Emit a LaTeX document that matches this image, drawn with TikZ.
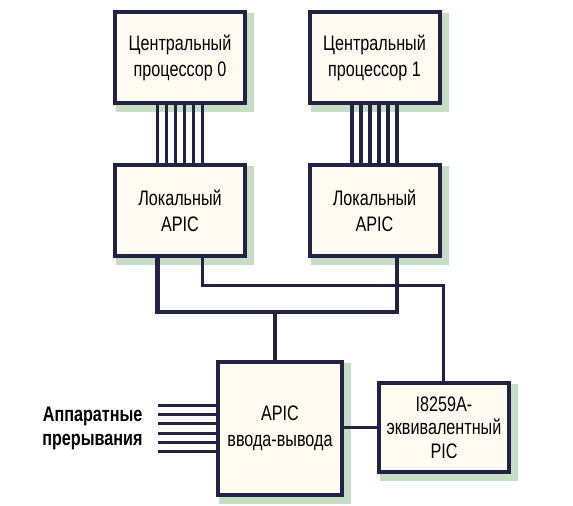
\documentclass[tikz,border=0pt]{standalone}
\usepackage{fontspec}
\setmainfont{Liberation Sans}[FakeStretch=0.77]
\definecolor{edgecol}{HTML}{222244}
\definecolor{boxfill}{HTML}{FFFBF0}
\definecolor{shadowcol}{HTML}{C5DEC5}
\pgfdeclarelayer{shadowlayer}
\pgfdeclarelayer{linelayer}
\pgfsetlayers{shadowlayer,linelayer,main}
\begin{document}
\begin{tikzpicture}[x=1pt,y=-1pt,
  box/.style={draw=edgecol, line width=4pt, fill=boxfill, minimum width=130pt,
    minimum height=91pt, inner sep=0pt, align=center,
    font=\fontsize{21}{26}\selectfont},
  busline/.style={draw=edgecol, line width=3.2pt},
  thickbus/.style={draw=edgecol, line width=4.5pt, line join=miter},
  thinwire/.style={draw=edgecol, line width=3pt, line join=miter},
  lbl/.style={font=\fontsize{21}{23.5}\selectfont\bfseries, align=right, text=black}]
\useasboundingbox (0,0) rectangle (573,506);
\node[box] (cpu0) at (180,57.5) {Центральный\\процессор 0};
\node[box] (cpu1) at (374.5,57.5) {Центральный\\процессор 1};
\node[box] (apic0) at (180,210.5) {Локальный\\APIC};
\node[box] (apic1) at (374.5,210.5) {Локальный\\APIC};
\node[box, minimum width=124pt, minimum height=133pt] (io) at (280,428.5) {APIC\\ввода-вывода};
\node[box, minimum height=89pt, font=\fontsize{21}{23.5}\selectfont] (pic) at (444,427.5) {I8259A-\\эквивалентный\\PIC};
\node[lbl, anchor=east] (irqlabel) at (146,428.5) {Аппаратные\\прерывания};
\begin{pgfonlayer}{shadowlayer}
\foreach \n in {cpu0,cpu1,apic0,apic1,io,pic}
  \fill[shadowcol] ([shift={(3pt,-7pt)}]\n.south west) rectangle ([shift={(7pt,-3pt)}]\n.north east);
\end{pgfonlayer}
\begin{pgfonlayer}{linelayer}
\foreach \d in {-22.5,-13.5,-4.5,4.5,13.5,22.5} {
  \draw[busline] ([xshift=\d pt]cpu0.south) -- ([xshift=\d pt]apic0.north);
  \draw[busline] ([xshift=\d pt]cpu1.south) -- ([xshift=\d pt]apic1.north);
}
\coordinate (a0l) at ([xshift=-22.5pt]apic0.south);
\coordinate (a0r) at ([xshift=22.5pt]apic0.south);
\coordinate (a1r) at ([xshift=22.5pt]apic1.south);
\coordinate (j) at (275,312);
\coordinate (k) at (443.5,285);
\draw[thickbus] (a0l) -- (a0l |- j) -- (a1r |- j) -- (a1r);
\draw[thickbus] (j) -- (j |- io.north);
\draw[thinwire] (a0r) -- (a0r |- k) -- (k) -- (k |- pic.north);
\draw[thinwire] (io.east |- pic.west) -- (pic.west);
\coordinate (irqx) at (158,428.5);
\foreach \d in {-23.3,-14,-4.7,4.7,14,23.3}
  \draw[busline] ([yshift=\d pt]irqx) -- ([yshift=\d pt]io.west);
\end{pgfonlayer}
\end{tikzpicture}
\end{document}
